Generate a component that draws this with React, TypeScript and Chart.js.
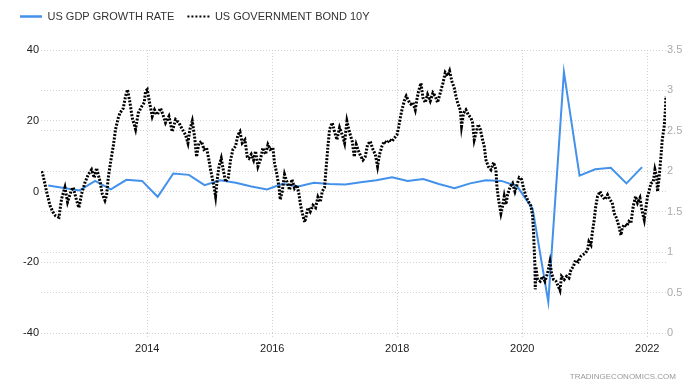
import { useEffect, useRef } from 'react';
import { Chart, registerables } from 'chart.js';

Chart.register(...registerables);

// ---- Data ----
const gdpQuarters = [
  '2012Q2', '2012Q3', '2012Q4',
  '2013Q1', '2013Q2', '2013Q3', '2013Q4',
  '2014Q1', '2014Q2', '2014Q3', '2014Q4',
  '2015Q1', '2015Q2', '2015Q3', '2015Q4',
  '2016Q1', '2016Q2', '2016Q3', '2016Q4',
  '2017Q1', '2017Q2', '2017Q3', '2017Q4',
  '2018Q1', '2018Q2', '2018Q3', '2018Q4',
  '2019Q1', '2019Q2', '2019Q3', '2019Q4',
  '2020Q1', '2020Q2', '2020Q3', '2020Q4',
  '2021Q1', '2021Q2', '2021Q3', '2021Q4',
];
const gdpGrowth = [
  1.7, 1.0, 0.3,
  3.0, 0.6, 3.3, 3.0,
  -1.5, 5.1, 4.7, 1.8,
  3.2, 2.5, 1.4, 0.6,
  2.2, 1.4, 2.5, 2.1,
  2.0, 2.6, 3.2, 4.0,
  3.0, 3.5, 2.1, 0.9,
  2.3, 3.2, 3.0, 1.5,
  -4.9, -31.2, 33.8, 4.5,
  6.3, 6.7, 2.3, 6.9,
];

// decimal-year dates of the 10Y yield readings
const bondDates = [
  2012.309, 2012.336, 2012.389, 2012.443, 2012.488, 2012.533, 2012.587, 2012.629, 2012.683, 2012.725,
  2012.779, 2012.816, 2012.869, 2012.907, 2012.949, 2013.003, 2013.056, 2013.109, 2013.152, 2013.189,
  2013.243, 2013.280, 2013.323, 2013.349, 2013.376, 2013.419, 2013.456, 2013.493, 2013.536, 2013.563,
  2013.616, 2013.653, 2013.685, 2013.723, 2013.760, 2013.813, 2013.856, 2013.909, 2013.952, 2013.973,
  2014.000, 2014.037, 2014.080, 2014.117, 2014.160, 2014.213, 2014.251, 2014.293, 2014.347, 2014.400,
  2014.453, 2014.507, 2014.560, 2014.613, 2014.651, 2014.683, 2014.720, 2014.757, 2014.789, 2014.827,
  2014.869, 2014.907, 2014.949, 2014.987, 2015.013, 2015.040, 2015.067, 2015.093, 2015.120, 2015.147,
  2015.184, 2015.216, 2015.253, 2015.296, 2015.333, 2015.371, 2015.413, 2015.451, 2015.483, 2015.520,
  2015.563, 2015.600, 2015.627, 2015.664, 2015.701, 2015.733, 2015.771, 2015.808, 2015.851, 2015.893,
  2015.931, 2015.968, 2016.011, 2016.037, 2016.075, 2016.107, 2016.128, 2016.160, 2016.197, 2016.235,
  2016.277, 2016.315, 2016.357, 2016.395, 2016.427, 2016.453, 2016.491, 2016.520, 2016.544, 2016.571,
  2016.608, 2016.651, 2016.693, 2016.731, 2016.768, 2016.800, 2016.837, 2016.864, 2016.891, 2016.917,
  2016.960, 2016.997, 2017.035, 2017.077, 2017.120, 2017.157, 2017.195, 2017.237, 2017.280, 2017.312,
  2017.344, 2017.381, 2017.419, 2017.451, 2017.488, 2017.525, 2017.568, 2017.611, 2017.648, 2017.685,
  2017.717, 2017.755, 2017.792, 2017.835, 2017.877, 2017.915, 2017.952, 2017.995, 2018.021, 2018.048,
  2018.075, 2018.112, 2018.144, 2018.181, 2018.219, 2018.251, 2018.288, 2018.315, 2018.341, 2018.379,
  2018.411, 2018.448, 2018.485, 2018.528, 2018.571, 2018.608, 2018.645, 2018.688, 2018.731, 2018.768,
  2018.805, 2018.837, 2018.875, 2018.912, 2018.939, 2018.965, 2019.008, 2019.029, 2019.061, 2019.099,
  2019.136, 2019.179, 2019.205, 2019.232, 2019.259, 2019.296, 2019.328, 2019.365, 2019.392, 2019.419,
  2019.456, 2019.499, 2019.541, 2019.579, 2019.595, 2019.621, 2019.659, 2019.685, 2019.712, 2019.739,
  2019.765, 2019.808, 2019.845, 2019.883, 2019.915, 2019.952, 2019.989, 2020.021, 2020.059, 2020.096,
  2020.139, 2020.165, 2020.181, 2020.192, 2020.203, 2020.208, 2020.219, 2020.245, 2020.288, 2020.325,
  2020.363, 2020.405, 2020.443, 2020.469, 2020.501, 2020.539, 2020.576, 2020.603, 2020.629, 2020.672,
  2020.709, 2020.747, 2020.779, 2020.816, 2020.853, 2020.896, 2020.939, 2020.976, 2021.013, 2021.045,
  2021.067, 2021.099, 2021.120, 2021.152, 2021.173, 2021.205, 2021.243, 2021.280, 2021.323, 2021.365,
  2021.403, 2021.440, 2021.472, 2021.509, 2021.547, 2021.579, 2021.600, 2021.632, 2021.669, 2021.707,
  2021.739, 2021.776, 2021.813, 2021.845, 2021.883, 2021.920, 2021.952, 2021.973, 2022.005, 2022.027,
  2022.059, 2022.096, 2022.123, 2022.149, 2022.165, 2022.187, 2022.219, 2022.240, 2022.272, 2022.290,
  2022.299,
];
const bondYields = [
  2.00, 1.94, 1.75, 1.58, 1.50, 1.45, 1.43, 1.66, 1.80, 1.62,
  1.75, 1.80, 1.64, 1.55, 1.72, 1.86, 1.96, 2.02, 1.92, 2.04,
  1.88, 1.72, 1.64, 1.70, 1.92, 2.14, 2.31, 2.52, 2.66, 2.72,
  2.78, 2.93, 3.01, 2.85, 2.66, 2.52, 2.72, 2.80, 2.85, 2.99,
  3.01, 2.85, 2.68, 2.76, 2.70, 2.78, 2.70, 2.60, 2.68, 2.49,
  2.64, 2.60, 2.52, 2.45, 2.35, 2.52, 2.62, 2.43, 2.18, 2.35,
  2.37, 2.27, 2.29, 2.14, 2.02, 1.92, 1.81, 1.69, 1.90, 2.06,
  2.16, 2.02, 1.87, 1.92, 2.14, 2.27, 2.31, 2.45, 2.49, 2.35,
  2.39, 2.18, 2.16, 2.21, 2.14, 2.25, 2.06, 2.14, 2.29, 2.21,
  2.33, 2.27, 2.29, 2.10, 1.96, 1.81, 1.65, 1.75, 1.96, 1.87,
  1.77, 1.90, 1.79, 1.83, 1.72, 1.58, 1.45, 1.37, 1.45, 1.55,
  1.50, 1.58, 1.55, 1.68, 1.62, 1.75, 1.80, 2.06, 2.31, 2.52,
  2.60, 2.49, 2.39, 2.54, 2.45, 2.35, 2.62, 2.48, 2.37, 2.18,
  2.33, 2.25, 2.18, 2.14, 2.18, 2.33, 2.37, 2.27, 2.21, 2.06,
  2.21, 2.31, 2.37, 2.35, 2.39, 2.37, 2.41, 2.45, 2.54, 2.66,
  2.76, 2.87, 2.93, 2.87, 2.83, 2.85, 2.76, 2.89, 2.99, 3.09,
  2.91, 2.85, 2.95, 2.87, 2.97, 2.93, 2.85, 2.97, 3.09, 3.22,
  3.18, 3.24, 3.11, 3.03, 2.93, 2.85, 2.76, 2.56, 2.72, 2.76,
  2.70, 2.66, 2.60, 2.39, 2.47, 2.58, 2.52, 2.39, 2.31, 2.14,
  2.06, 2.02, 2.11, 2.02, 1.81, 1.65, 1.48, 1.57, 1.69, 1.59,
  1.71, 1.81, 1.85, 1.75, 1.83, 1.92, 1.90, 1.79, 1.69, 1.63,
  1.57, 1.45, 1.24, 1.03, 0.82, 0.54, 0.82, 0.66, 0.64, 0.70,
  0.64, 0.74, 0.88, 0.74, 0.66, 0.64, 0.58, 0.53, 0.70, 0.66,
  0.70, 0.68, 0.78, 0.82, 0.90, 0.88, 0.95, 0.97, 0.99, 1.03,
  1.13, 1.09, 1.24, 1.40, 1.55, 1.69, 1.75, 1.69, 1.65, 1.71,
  1.65, 1.61, 1.48, 1.42, 1.32, 1.21, 1.30, 1.34, 1.32, 1.38,
  1.36, 1.57, 1.69, 1.61, 1.67, 1.50, 1.40, 1.52, 1.69, 1.75,
  1.85, 1.87, 2.02, 1.94, 1.75, 1.90, 2.18, 2.39, 2.56, 2.76,
  2.93,
];

const xTickYears = [2014, 2016, 2018, 2020, 2022];
const xRange = [2012.3, 2022.3];
const gdpAxisRange = [-40, 40, 20];
const bondAxisRange = [0, 3.5, 0.5];

const quarterToYear = (q: string) => {
  const y = Number(q.slice(0, 4));
  const n = Number(q.slice(5));
  return y + (3 * n - 1) / 12;
};

const FONT = "'Liberation Sans', Arial, sans-serif";
const GRID = '#d2d2d2';
const BLUE = '#4391eb';
const BOND_DASH = [2, 1.5];

export default function App() {
  const canvasRef = useRef<HTMLCanvasElement | null>(null);

  useEffect(() => {
    document.body.style.margin = '0';
    const canvas = canvasRef.current;
    if (!canvas) return;

    const legendSpacer = {
      id: 'legendSpacer',
      beforeUpdate(chart: any) {
        const lg = chart.legend;
        if (lg && !lg._spaced) {
          const orig = lg.fit.bind(lg);
          lg.fit = function () {
            orig();
            this.height = 52;
          };
          lg._spaced = true;
        }
      },
    };

    const watermark = {
      id: 'watermark',
      afterDraw(chart: any) {
        const ctx = chart.ctx;
        ctx.save();
        ctx.font = `8px ${FONT}`;
        ctx.fillStyle = '#999';
        ctx.textAlign = 'right';
        ctx.textBaseline = 'middle';
        ctx.fillText('TRADINGECONOMICS.COM', 676, 377);
        ctx.restore();
      },
    };

    const chart = new Chart(canvas, {
      type: 'line',
      data: {
        datasets: [
          {
            label: 'US GDP GROWTH RATE',
            data: gdpQuarters.map((q, i) => ({ x: quarterToYear(q), y: gdpGrowth[i] })),
            borderColor: BLUE,
            backgroundColor: BLUE,
            borderWidth: 2,
            pointRadius: 0,
            tension: 0,
            yAxisID: 'y',
            order: 1,
          },
          {
            label: 'US GOVERNMENT BOND 10Y',
            data: bondDates.map((d, i) => ({ x: d, y: bondYields[i] })),
            borderColor: '#000',
            backgroundColor: '#000',
            borderWidth: 3,
            borderDash: BOND_DASH,
            pointRadius: 0,
            tension: 0,
            yAxisID: 'y1',
            order: 0,
          },
        ],
      },
      options: {
        responsive: false,
        animation: false,
        devicePixelRatio: 1,
        layout: { padding: { left: 7, top: -2, right: 0, bottom: 0 } },
        plugins: {
          tooltip: { enabled: false },
          legend: {
            position: 'top',
            align: 'start',
            labels: {
              usePointStyle: true,
              pointStyle: 'line',
              pointStyleWidth: 22,
              padding: 13,
              color: '#333',
              font: { family: FONT, size: 11 },
              sort: (a: any, b: any) => a.datasetIndex - b.datasetIndex,
              generateLabels: (ch: any) =>
                (Chart.defaults.plugins.legend.labels as any).generateLabels(ch).map((item: any) => ({
                  ...item,
                  pointStyle: 'line',
                  lineWidth: item.datasetIndex === 1 ? 2 : 2.5,
                  lineDash: item.datasetIndex === 1 ? [2, 2] : [],
                  strokeStyle: item.datasetIndex === 1 ? '#000' : BLUE,
                  fillStyle: item.datasetIndex === 1 ? '#000' : BLUE,
                })),
            },
          },
        },
        scales: {
          x: {
            type: 'linear',
            min: xRange[0],
            max: xRange[1],
            afterBuildTicks: (axis: any) => {
              axis.ticks = xTickYears.map((v) => ({ value: v }));
            },
            afterFit: (scale: any) => {
              scale.height = 54;
            },
            grid: {
              color: GRID,
              drawTicks: true,
              tickLength: 6,
              tickColor: GRID,
              tickBorderDash: [1, 2],
            },
            border: { display: false, dash: [1, 2] },
            ticks: {
              autoSkip: false,
              maxRotation: 0,
              padding: 3,
              color: '#222',
              font: { family: FONT, size: 11 },
              callback: (v: any) => String(v),
            },
          },
          y: {
            position: 'left',
            min: gdpAxisRange[0],
            max: gdpAxisRange[1],
            afterFit: (scale: any) => {
              scale.width = 34;
            },
            grid: { color: GRID, drawTicks: false },
            border: { display: false, dash: [1, 2] },
            ticks: {
              stepSize: gdpAxisRange[2],
              padding: 2,
              color: '#222',
              font: { family: FONT, size: 11 },
              callback: (v: any) => String(v),
            },
          },
          y1: {
            position: 'right',
            min: bondAxisRange[0],
            max: bondAxisRange[1],
            afterFit: (scale: any) => {
              scale.width = 33;
            },
            grid: { color: GRID, drawTicks: false },
            border: { display: false, dash: [1, 2] },
            ticks: {
              stepSize: bondAxisRange[2],
              padding: 1,
              color: '#aaa',
              font: { family: FONT, size: 11 },
              callback: (v: any) => String(v),
            },
          },
        },
      } as any,
      plugins: [legendSpacer, watermark],
    });

    return () => chart.destroy();
  }, []);

  return (
    <div style={{ width: 699, height: 387 }}>
      <canvas ref={canvasRef} width={699} height={387} style={{ display: 'block', width: 699, height: 387 }} />
    </div>
  );
}
